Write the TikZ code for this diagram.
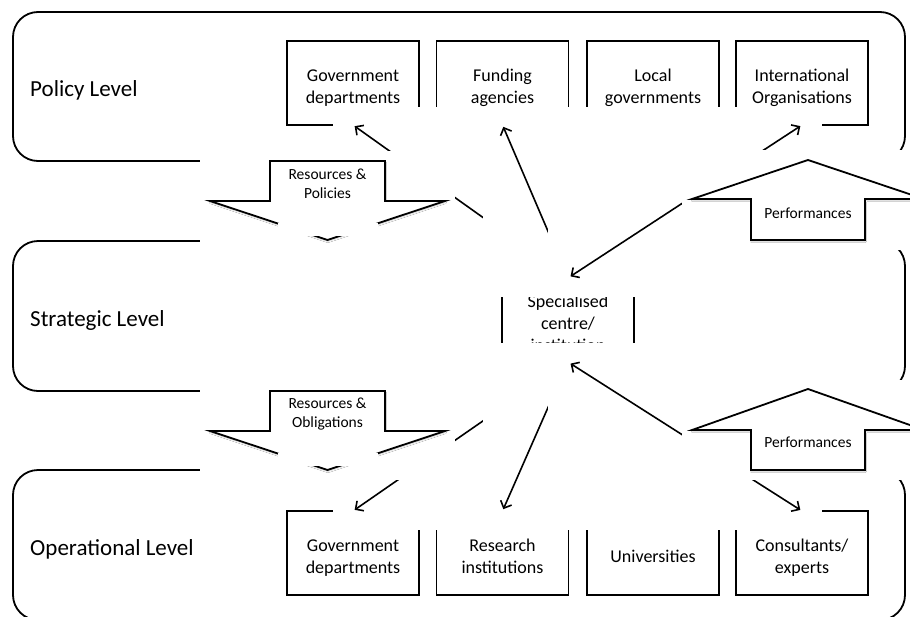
\documentclass[tikz,border=0pt]{standalone}
\usepackage{fontspec}
\setmainfont{Carlito}
\usetikzlibrary{arrows.meta,calc,shadows.blur}

% centred stack of lines, set a little below the middle of its box
\newcommand{\unitlines}[1]{\raisebox{-5pt}[\height][\depth]{%
  \begin{tabular}{@{}c@{}}#1\end{tabular}}}

\begin{document}
\begin{tikzpicture}[x=1pt,y=-1pt,
  level/.style={draw, line width=1.8pt, rounded corners=25pt, minimum width=892pt,
    minimum height=150pt, inner sep=0pt, outer sep=0pt},
  levelname/.style={anchor=base west, inner sep=0pt, font=\fontsize{23}{28}\selectfont},
  unit/.style={draw, line width=1.8pt, minimum width=132pt, minimum height=84pt,
    inner sep=0pt, outer sep=0pt, font=\fontsize{18}{22}\selectfont},
  cover/.style={fill=white},
  barb/.tip={Straight Barb[length=6pt,width=12pt]},
  link/.style={line width=1.6pt, -barb, shorten >=2pt},
  twoway/.style={line width=1.6pt, barb-barb, shorten >=2pt, shorten <=3pt},
  blockarrow/.style={draw, fill=white, line width=1.8pt, line join=miter,
    blur shadow={shadow xshift=0.4pt, shadow yshift=-1.5pt, shadow blur radius=1.2pt,
    shadow blur steps=4, shadow opacity=18}},
  arrowtext/.style={align=center, inner sep=0pt, font=\fontsize{15.5}{19}\selectfont}
]
\useasboundingbox (0,0) rectangle (910,616);

% the three levels
\node[level, minimum height=149pt] (policy) at (459,86.5) {};
\node[level] (strategic) at (459,316) {};
\node[level] (operational) at (459,545) {};
\node[levelname] (policyname) at (30,96) {Policy Level};
\node[levelname] (strategicname) at (30,326.5) {Strategic Level};
\node[levelname] (operationalname) at (30,555) {Operational Level};

% policy actors
\node[unit] (pgd) at (353,83) {\unitlines{Government\\departments}};
\node[unit] (pfa) at (502.5,83) {\unitlines{Funding\\agencies}};
\node[unit] (plg) at (653,83) {\unitlines{Local\\governments}};
\node[unit] (pio) at (802,83) {\unitlines{International\\Organisations}};

% operational actors
\node[unit] (ogd) at (353,553) {\unitlines{Government\\departments}};
\node[unit] (ori) at (502.5,553) {\unitlines{Research\\institutions}};
\node[unit] (oun) at (653,553) {\unitlines{Universities}};
\node[unit] (oce) at (802,553) {\unitlines{Consultants/\\experts}};

% the centre
\node[unit] (cen) at (568,320) {\unitlines{Specialised\\centre/\\institution}};

% links up to the policy level, each on its own white backdrop
\fill[cover] ($(pgd.south)+(-20,-18)$) rectangle ($(cen.north)+(20,19)$);
\draw[link] (cen.north) -- (pgd.south);
\fill[cover] ($(pfa.south)+(-20,-18)$) rectangle ($(cen.north)+(20,19)$);
\draw[link] (cen.north) -- (pfa.south);
\fill[cover] ($(cen.north)+(-20,19)$) rectangle ($(pio.south)+(20,-18)$);
\draw[twoway] (cen.north) -- (pio.south);

% links down to the operational level
\fill[cover] ($(ogd.north)+(-20,19)$) rectangle ($(cen.south)+(20,-19)$);
\draw[link] (cen.south) -- (ogd.north);
\fill[cover] ($(ori.north)+(-20,19)$) rectangle ($(cen.south)+(20,-19)$);
\draw[link] (cen.south) -- (ori.north);
\fill[cover] ($(cen.south)+(-20,-19)$) rectangle ($(oce.north)+(20,19)$);
\draw[twoway] (cen.south) -- (oce.north);

% block arrows between the levels
\fill[cover] (200,151) rectangle (455,250);
\draw[blockarrow] (270,161) -- (385,161) -- (385,201) -- (445,201) -- (327.5,240)
  -- (210,201) -- (270,201) -- cycle;
\fill[cover] (278,223) rectangle (378,236);
\node[arrowtext] (respol) at (327.5,184) {Resources \&\\Policies};

\fill[cover] (200,381) rectangle (455,480);
\draw[blockarrow] (270,391) -- (385,391) -- (385,431) -- (445,431) -- (327.5,470)
  -- (210,431) -- (270,431) -- cycle;
\fill[cover] (278,453) rectangle (378,466);
\node[arrowtext] (resobl) at (327.5,414) {Resources \&\\Obligations};

\fill[cover] (682,150) rectangle (910,250);
\draw[blockarrow] (751,240) -- (865,240) -- (865,199) -- (924,199) -- (808,160)
  -- (692,199) -- (751,199) -- cycle;
\node[arrowtext] (perfup) at (808,213) {Performances};

\fill[cover] (682,380) rectangle (910,480);
\draw[blockarrow] (751,470) -- (865,470) -- (865,430) -- (924,430) -- (808,389)
  -- (692,430) -- (751,430) -- cycle;
\node[arrowtext] (perfop) at (808,442) {Performances};
\end{tikzpicture}
\end{document}
